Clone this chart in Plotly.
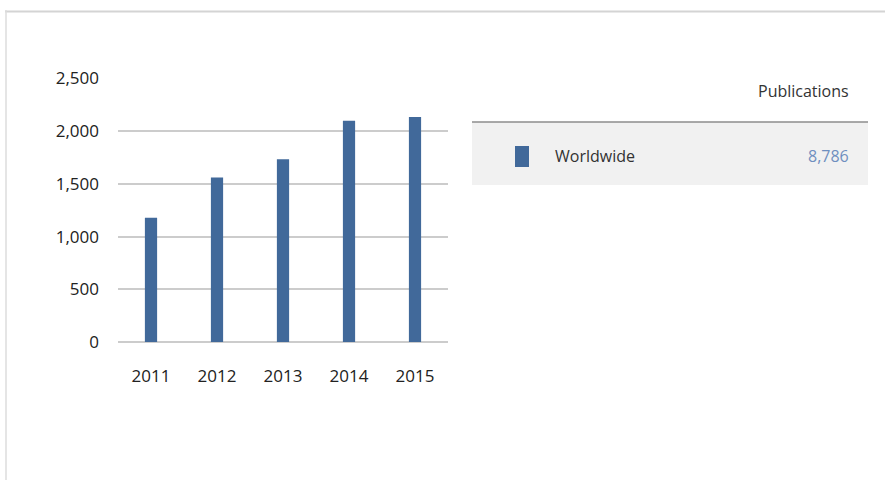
import plotly.graph_objects as go

years = ["2011", "2012", "2013", "2014", "2015"]
publications = [1180, 1560, 1735, 2100, 2135]
series_name = "Worldwide"
total_label = "8,786"
column_header = "Publications"
y_ticks = [0, 500, 1000, 1500, 2000, 2500]

W, H = 885, 480
BAR = "#41699a"
FONT = "Open Sans, sans-serif"

def px(x):
    return x / W

def py(y):
    return 1 - y / H

fig = go.Figure()
fig.add_trace(go.Bar(x=years, y=publications, marker=dict(color=BAR, line=dict(width=0)),
                     name=series_name, hoverinfo="x+y"))

shapes = [
    dict(type="line", xref="paper", yref="paper", x0=px(5), x1=1, y0=py(11.5), y1=py(11.5),
         line=dict(color="#d4d4d4", width=2)),
    dict(type="line", xref="paper", yref="paper", x0=px(6), x1=px(6), y0=py(10), y1=0,
         line=dict(color="#dcdcdc", width=1.5)),
    dict(type="rect", xref="paper", yref="paper", x0=px(472), x1=px(868), y0=py(122), y1=py(185),
         fillcolor="#f1f1f1", line=dict(width=0), layer="below"),
    dict(type="line", xref="paper", yref="paper", x0=px(472), x1=px(868), y0=py(122), y1=py(122),
         line=dict(color="#8c8c8c", width=1.5)),
    dict(type="rect", xref="paper", yref="paper", x0=px(515), x1=px(529), y0=py(146), y1=py(167),
         fillcolor=BAR, line=dict(width=0)),
]

annotations = [
    dict(text=column_header, xref="paper", yref="paper", x=px(851), y=py(91),
         xanchor="right", yanchor="middle", showarrow=False,
         font=dict(family=FONT, size=16, color="#333333")),
    dict(text=series_name, xref="paper", yref="paper", x=px(553), y=py(156),
         xanchor="left", yanchor="middle", showarrow=False,
         font=dict(family=FONT, size=16, color="#333333")),
    dict(text=total_label, xref="paper", yref="paper", x=px(851), y=py(156),
         xanchor="right", yanchor="middle", showarrow=False,
         font=dict(family=FONT, size=16, color="#6f8fbf")),
]

fig.update_layout(
    width=W, height=H, autosize=False,
    margin=dict(l=0, r=0, t=0, b=0, pad=0, autoexpand=False),
    paper_bgcolor="white", plot_bgcolor="white",
    showlegend=False,
    bargap=0.815,
    shapes=shapes,
    annotations=annotations,
    xaxis=dict(domain=[px(118), px(448)], type="category", showgrid=False, showline=False,
               zeroline=False, ticks="", ticklabelstandoff=22, automargin=False,
               tickfont=dict(family=FONT, size=17, color="#222222")),
    yaxis=dict(domain=[py(342), py(78.5)], range=[0, 2500], tickvals=y_ticks,
               tickformat=",d", showgrid=True, gridcolor="#cccccc", gridwidth=1.5,
               zeroline=True, zerolinecolor="#cccccc", zerolinewidth=1.5,
               showline=False, ticks="", ticklabelstandoff=18, automargin=False,
               tickfont=dict(family=FONT, size=17, color="#222222")),
)

fig.write_html(
    "out.html",
    config={"responsive": False, "displayModeBar": False},
    post_script="document.body.style.margin='0';document.body.style.overflow='hidden';",
)
